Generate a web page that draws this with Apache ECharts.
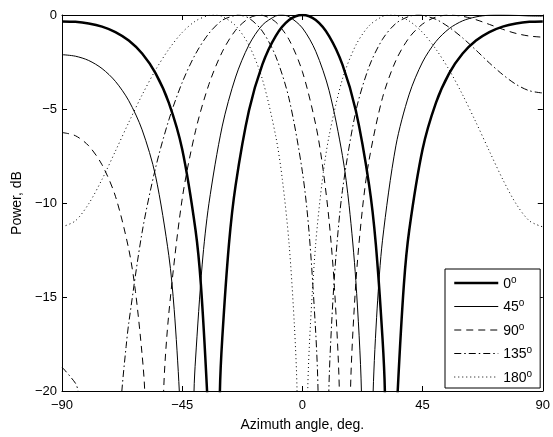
<!DOCTYPE html>
<html>
<head>
<meta charset="utf-8">
<script src="https://cdn.jsdelivr.net/npm/echarts@6/dist/echarts.min.js"></script>
<style>
  html, body { margin: 0; padding: 0; background: #fff; }
  #chart { width: 553px; height: 437px; }
</style>
</head>
<body>
<div id="chart"></div>
<script>
// beam patterns, [azimuth deg, power dB]
var beam0 = [[-90,-0.34],[-85,-0.36],[-80,-0.45],[-75,-0.62],[-70,-0.91],[-65,-1.36],[-60,-2.05],[-55,-3.09],[-50,-4.67],[-45,-7.14],[-40,-11.45],[-38,-14.34],[-35.69,-20],[-35,-22.8],[-33.25,-40],[-30.88,-20],[-30,-17.21],[-27.5,-12.2],[-25,-9.06],[-20,-5.08],[-15,-2.64],[-10,-1.12],[-5,-0.27],[0,0],
  [5,-0.27],[10,-1.12],[15,-2.64],[20,-5.08],[25,-9.06],[27.5,-12.2],[30,-17.21],[30.88,-20],[33.25,-40],[35,-22.8],[35.69,-20],[38,-14.34],[40,-11.45],[45,-7.14],[50,-4.67],[55,-3.09],[60,-2.05],[65,-1.36],[70,-0.91],[75,-0.62],[80,-0.45],[85,-0.36],[90,-0.34]];
var beam45 = [[-90,-2.11],[-85,-2.19],[-80,-2.42],[-75,-2.85],[-70,-3.53],[-65,-4.56],[-60,-6.11],[-55,-8.54],[-50,-12.8],[-48,-15.66],[-46.08,-20],[-45,-24.1],[-43.26,-40],[-40.57,-20],[-40,-18.3],[-37.5,-13.25],[-35,-10.04],[-30,-5.91],[-25,-3.3],[-20,-1.59],[-15,-0.54],[-10,-0.05],[-7.9,0],[-5,-0.09],[0,-0.69],
  [5,-1.93],[10,-4.02],[15,-7.48],[17.5,-10.14],[20,-14.12],[22.1,-20],[24.28,-40],[25,-29.7],[26.5,-20],[28,-15.59],[30,-11.98],[35,-6.96],[40,-4.21],[45,-2.5],[50,-1.41],[55,-0.72],[60,-0.31],[65,-0.1],[70,-0.01],[73.6,0],[75,0],[80,-0.02],[85,-0.05],[90,-0.06]];
var beam90 = [[-90,-6.25],[-85,-6.42],[-80,-6.96],[-75,-7.97],[-70,-9.64],[-65,-12.46],[-62.5,-14.7],[-60,-18.08],[-59.04,-20],[-55.33,-40],[-51.94,-20],[-50,-15.87],[-45,-9.78],[-40,-6.16],[-35,-3.69],[-30,-1.96],[-25,-0.81],[-20,-0.17],[-15.9,0],[-15,-0.01],[-10,-0.37],[-5,-1.31],[0,-3.01],
  [5,-5.84],[7.5,-7.96],[10,-10.94],[12,-14.49],[13.84,-20],[15.91,-40],[18.01,-20],[20,-14.27],[22.5,-10.29],[25,-7.69],[30,-4.4],[35,-2.42],[40,-1.2],[45,-0.48],[50,-0.11],[55,0],[60,-0.07],[65,-0.25],[70,-0.5],[75,-0.76],[80,-0.98],[85,-1.12],[90,-1.18]];
var beam135 = [[-90,-18.73],[-85,-19.58],[-83.96,-20],[-80,-22.8],[-73.62,-40],[-70,-24.9],[-67.59,-20],[-66,-17.64],[-65,-16.38],[-60,-11.55],[-55,-8.15],[-50,-5.58],[-45,-3.59],[-40,-2.07],[-35,-0.98],[-30,-0.28],[-25,-0.01],[-24.3,0],[-20,-0.17],[-15,-0.86],[-10,-2.19],[-5,-4.45],[0,-8.34],
  [2.5,-11.55],[5,-16.92],[5.86,-20],[7.88,-40],[9.91,-20],[11,-16.28],[12.5,-12.94],[15,-9.33],[20,-5.13],[25,-2.74],[30,-1.29],[35,-0.45],[40,-0.07],[43.3,0],[45,-0.02],[50,-0.23],[55,-0.66],[60,-1.22],[65,-1.87],[70,-2.55],[75,-3.17],[80,-3.69],[85,-4.03],[90,-4.15]];
var beam180 = [[-90,-11.27],[-85,-10.95],[-80,-10.04],[-75,-8.74],[-70,-7.24],[-65,-5.71],[-60,-4.25],[-55,-2.93],[-50,-1.82],[-45,-0.93],[-40,-0.32],[-35,-0.02],[-33.2,0],[-30,-0.08],[-25,-0.57],[-20,-1.61],[-15,-3.41],[-10,-6.43],[-7.5,-8.75],[-5,-12.14],[-3,-16.5],[-2,-20],[0,-40],
  [2,-20],[3,-16.5],[5,-12.14],[7.5,-8.75],[10,-6.43],[15,-3.41],[20,-1.61],[25,-0.57],[30,-0.08],[33.2,0],[35,-0.02],[40,-0.32],[45,-0.93],[50,-1.82],[55,-2.93],[60,-4.25],[65,-5.71],[70,-7.24],[75,-8.74],[80,-10.04],[85,-10.95],[90,-11.27]];

var beamNames = ['0°', '45°', '90°', '135°', '180°'];
var beamData = [beam0, beam45, beam90, beam135, beam180];
var xTicks = [-90, -45, 0, 45, 90];
var yTicks = [-20, -15, -10, -5, 0];

var FONT = '"Liberation Sans", Arial, Helvetica, sans-serif';
var lineTypes = ['solid', 'solid', [7, 5], [7, 3, 1.5, 3], [1, 3]];
var lineWidths = [2.5, 1, 1, 1, 1];

function minus(v) { return String(v).replace('-', '\u2212'); }

var myChart = echarts.init(document.getElementById('chart'));

var axisCommon = {
    type: 'value',
    axisLine: {show: true, onZero: false, lineStyle: {color: '#000', width: 1}},
    axisTick: {show: true, inside: true, length: 5, lineStyle: {color: '#000'}},
    splitLine: {show: false}
};

var series = [];
for (var i = 0; i < beamData.length; i++) {
    series.push({
        name: beamNames[i],
        type: 'line',
        data: beamData[i],
        symbol: 'none',
        showSymbol: false,
        clip: true,
        smooth: 0.3,
        lineStyle: {color: '#000', width: lineWidths[i], type: lineTypes[i]},
        itemStyle: {color: '#000'},
        z: 10 - i
    });
}

var option = {
    animation: false,
    backgroundColor: '#fff',
    textStyle: {fontFamily: FONT},
    grid: {left: 62, right: 8, top: 15, bottom: 41},
    legend: {
        orient: 'vertical',
        left: 445,
        top: 269,
        padding: [6, 8, 3, 8],
        itemWidth: 44,
        itemHeight: 14,
        itemGap: 7.5,
        backgroundColor: '#fff',
        borderColor: '#000',
        borderWidth: 1,
        borderRadius: 0,
        data: beamNames,
        itemStyle: {color: 'rgba(0,0,0,0)', borderWidth: 0, opacity: 0},
        lineStyle: {width: 'inherit', type: 'inherit', color: 'inherit'},
        formatter: function (name) { return '{n|' + name.replace('°', '') + '}{s|o}'; },
        textStyle: {
            color: '#000',
            fontFamily: FONT,
            rich: {
                n: {fontSize: 14, lineHeight: 16, verticalAlign: 'bottom', fontFamily: FONT, color: '#000'},
                s: {fontSize: 10, lineHeight: 10, verticalAlign: 'top', fontFamily: FONT, color: '#000'}
            }
        }
    },
    xAxis: [
        echarts.util.merge({
            position: 'bottom', min: xTicks[0], max: xTicks[xTicks.length - 1], interval: 45,
            name: 'Azimuth angle, deg.', nameLocation: 'middle', nameGap: 27,
            nameTextStyle: {color: '#000', fontSize: 14, fontFamily: FONT},
            axisLabel: {color: '#000', fontSize: 13, margin: 8, fontFamily: FONT, formatter: minus}
        }, axisCommon, true),
        echarts.util.merge({
            position: 'top', min: xTicks[0], max: xTicks[xTicks.length - 1], interval: 45,
            axisLabel: {show: false}
        }, axisCommon, true)
    ],
    yAxis: [
        echarts.util.merge({
            position: 'left', min: yTicks[0], max: yTicks[yTicks.length - 1], interval: 5,
            name: 'Power, dB', nameLocation: 'middle', nameGap: 38,
            nameTextStyle: {color: '#000', fontSize: 14, fontFamily: FONT},
            axisLabel: {color: '#000', fontSize: 13, margin: 5, fontFamily: FONT, formatter: minus}
        }, axisCommon, true),
        echarts.util.merge({
            position: 'right', min: yTicks[0], max: yTicks[yTicks.length - 1], interval: 5,
            axisLabel: {show: false}
        }, axisCommon, true)
    ],
    series: series
};
myChart.setOption(option);
</script>
</body>
</html>
